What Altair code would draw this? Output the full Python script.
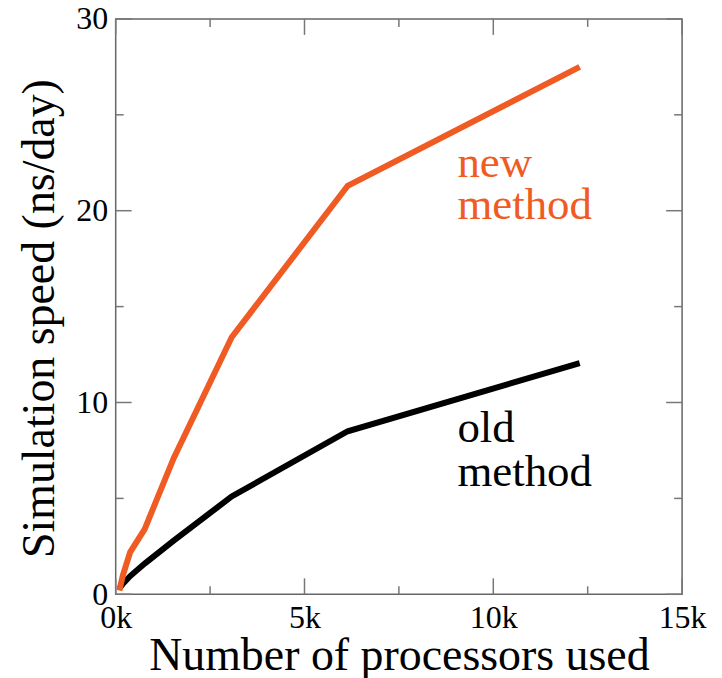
import altair as alt
import pandas as pd

# ---- data ----
processors = [96, 192, 384, 768, 1536, 3072, 6144, 12288]
old_method = [0.3, 0.55, 0.95, 1.6, 2.8, 5.1, 8.5, 12.05]
new_method = [0.2, 1.0, 2.2, 3.4, 7.1, 13.4, 21.3, 27.5]

x_major = [0, 5000, 10000, 15000]
x_minor = [2500, 7500, 12500]
y_major = [0, 10, 20, 30]
y_minor = [5, 15, 25]

label_x = [9050, 9050, 9050, 9050]
label_y = [21.75, 19.55, 7.95, 5.65]
label_text = ["new", "method", "old", "method"]
label_color = ["#EF5B22", "#EF5B22", "#000000", "#000000"]

ORANGE = "#EF5B22"
FONT = "Liberation Serif"
W, H = 568, 577

df = pd.DataFrame({
    "procs": processors * 2,
    "speed": old_method + new_method,
    "series": ["old"] * len(processors) + ["new"] * len(processors),
})

xscale = alt.Scale(domain=[0, 15000], nice=False, zero=False)
yscale = alt.Scale(domain=[0, 30], nice=False, zero=False)

xaxis = alt.Axis(values=x_major, labelExpr="datum.value/1000 + 'k'",
                 title="Number of processors used", ticks=False, domain=False,
                 grid=False, labelFont=FONT, labelFontSize=32, labelColor="black",
                 labelPadding=8, titleFont=FONT, titleFontSize=46,
                 titleFontWeight="normal", titleColor="black", titlePadding=0,
                 labelFlush=False)
yaxis = alt.Axis(values=y_major, title="Simulation speed (ns/day)", ticks=False,
                 domain=False, grid=False, labelFont=FONT, labelFontSize=32,
                 labelColor="black", labelPadding=8, titleFont=FONT,
                 titleFontSize=46, titleFontWeight="normal", titleColor="black",
                 titlePadding=12, titleY=300, labelFlush=False)

def X():
    return alt.X("procs:Q", scale=xscale, axis=xaxis)

def Y():
    return alt.Y("speed:Q", scale=yscale, axis=yaxis)

lines = alt.Chart(df).mark_line(strokeWidth=6, strokeJoin="miter", strokeCap="butt").encode(
    x=X(), y=Y(),
    color=alt.Color("series:N", scale=alt.Scale(domain=["old", "new"], range=["#000000", ORANGE]),
                    legend=None),
    detail="series:N",
)

lab_df = pd.DataFrame({"procs": label_x, "speed": label_y, "text": label_text,
                       "color": label_color})
labels = alt.Chart(lab_df).mark_text(align="left", baseline="alphabetic", font=FONT,
                                     fontSize=45).encode(
    x=X(), y=Y(),
    text="text:N",
    color=alt.Color("color:N", scale=None),
)

TICK_COLOR = "#777777"
def xticks(vals, length):
    d = pd.DataFrame({"procs": vals})
    base = alt.Chart(d).mark_rule(color=TICK_COLOR, strokeWidth=1.5)
    bottom = base.encode(x=X(), y=alt.value(H), y2=alt.value(H - length))
    top = base.encode(x=X(), y=alt.value(0), y2=alt.value(length))
    return [bottom, top]

def yticks(vals, length):
    d = pd.DataFrame({"speed": vals})
    base = alt.Chart(d).mark_rule(color=TICK_COLOR, strokeWidth=1.5)
    left = base.encode(y=Y(), x=alt.value(0), x2=alt.value(length))
    right = base.encode(y=Y(), x=alt.value(W), x2=alt.value(W - length))
    return [left, right]

tick_layers = (xticks(x_major, 16) + xticks(x_minor, 8) +
               yticks(y_major, 16) + yticks(y_minor, 8))

chart = alt.layer(lines, labels, *tick_layers).properties(
    width=W, height=H,
    autosize=alt.AutoSizeParams(type="none"),
    padding={"left": 108, "top": 10, "right": 32, "bottom": 83},
).configure_view(stroke="#666666", strokeWidth=1.5)

chart.save("out.html", embed_options={"renderer": "svg", "actions": False})
